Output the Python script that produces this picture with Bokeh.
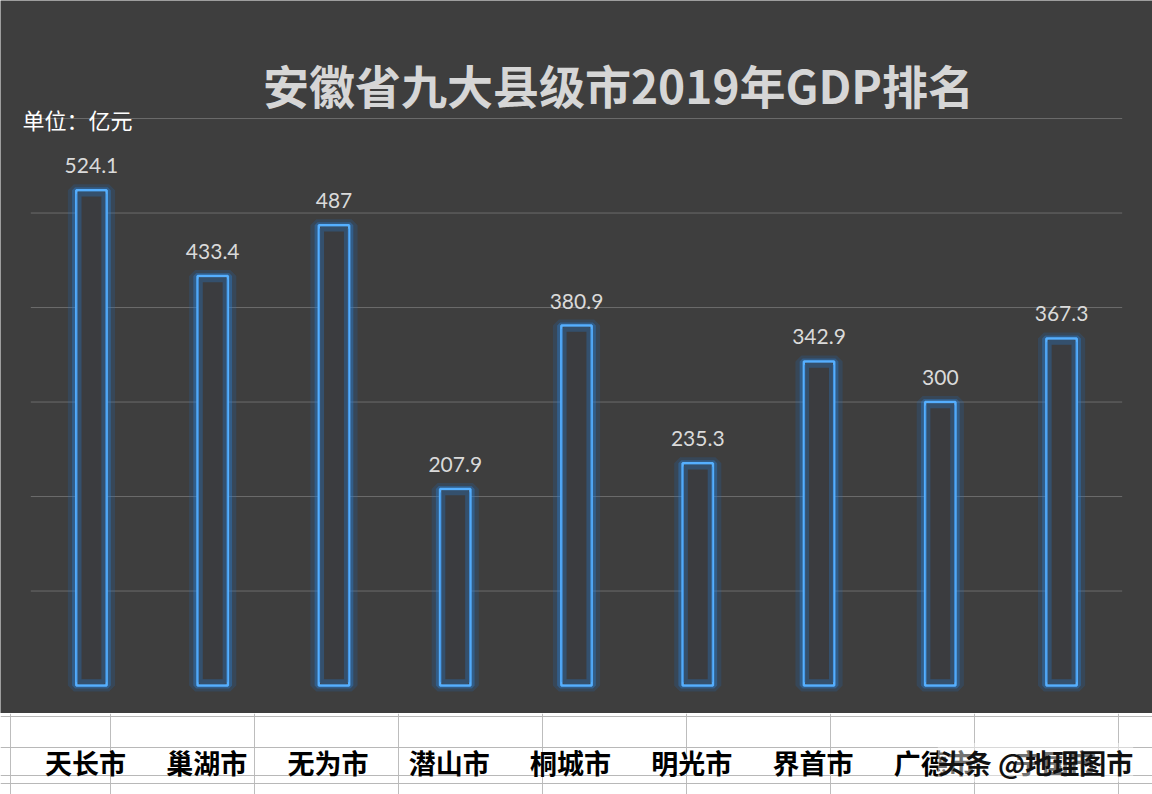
from bokeh.plotting import figure
from bokeh.layouts import column
from bokeh.models import (ColumnDataSource, FactorRange, Range1d, LabelSet, Label,
                          FixedTicker)
from bokeh.core.properties import value
from bokeh.embed import file_html
from bokeh.resources import INLINE

# ---------------- data ----------------
cities = ["天长市", "巢湖市", "无为市", "潜山市", "桐城市", "明光市", "界首市", "广德市", "宁国市"]
gdp = [524.1, 433.4, 487, 207.9, 380.9, 235.3, 342.9, 300, 367.3]
grid_values = [100, 200, 300, 400, 500, 600]
title_text = "安徽省九大县级市2019年GDP排名"
unit_text = "单位：亿元"
watermark_text = "头条 @地理图市"

# ---------------- styles / layout ----------------
BG = "#3e3e3e"
CJK = "Noto Sans CJK SC"
W = 1152
TOP_H = 713
BOT_H = 81
N = len(cities)
PX_PER_CAT = W / (N + 0.5)          # category band width in pixels (with 0.25 padding each side)
def cat_x(px):                       # pixel -> synthetic category coordinate (decorations only)
    return px / PX_PER_CAT - 0.25

labels = [f"{v:g}" for v in gdp]
src = ColumnDataSource(dict(x=cities, top=gdp, inner=[v - 4 for v in gdp], lab=labels))

xr = FactorRange(*cities, range_padding=0.5 / N, range_padding_units="percent")
p = figure(width=W, height=TOP_H, x_range=xr, y_range=Range1d(-29.6, 724.9),
           x_axis_location=None, y_axis_location=None,
           output_backend="svg", toolbar_location=None,
           background_fill_color=BG, border_fill_color=BG, min_border=0)
p.outline_line_color = None
p.xgrid.visible = False
p.ygrid.visible = False

# horizontal gridlines across the category band
p.segment(x0=[0] * len(grid_values), x1=[N] * len(grid_values), y0=grid_values, y1=grid_values,
          line_color="#6b6b6b", line_width=1)

# glow around bars
p.vbar(x="x", top="top", width=0.29, source=src, fill_alpha=0,
       line_color="#1f6fc4", line_alpha=0.2, line_width=12)
p.vbar(x="x", top="top", width=0.27, source=src, fill_alpha=0,
       line_color="#2a80d8", line_alpha=0.38, line_width=6)
# main bar outline
p.vbar(x="x", top="top", width=0.25, source=src, fill_color="#3b3c3f",
       line_color="#55afff", line_width=2.5)
# inner glow
p.vbar(x="x", top="inner", bottom=4, width=0.205, source=src, fill_alpha=0,
       line_color="#2b6fb5", line_alpha=0.4, line_width=5)

p.add_layout(LabelSet(x="x", y="top", text="lab", source=src, text_align="center",
                      text_baseline="bottom", y_offset=17, text_color="#dadada",
                      text_font=value("Lato"), text_font_size="21px"))

p.add_layout(Label(x=cat_x(618), y=637, text=title_text,
                   text_align="center", text_baseline="middle", text_color="#d6d6d6",
                   text_font=CJK, text_font_size="46px", text_font_style="bold"))
p.add_layout(Label(x=cat_x(22), y=599, text=unit_text,
                   text_align="left", text_baseline="middle", text_color="#ffffff",
                   text_font=CJK, text_font_size="22px"))

# ---------------- bottom spreadsheet strip ----------------
b = figure(width=W, height=BOT_H, x_range=xr, y_range=Range1d(794, 713),
           x_axis_location=None, y_axis_location=None,
           output_backend="svg", toolbar_location=None,
           background_fill_color="#ffffff", border_fill_color="#ffffff", min_border=0)
b.outline_line_color = None
b.xgrid.ticker = FixedTicker(ticks=[cat_x(x) for x in [10, 110, 254, 398, 542, 686, 830, 974, 1118]])
b.xgrid.grid_line_color = "#bdbdbd"
b.ygrid.ticker = FixedTicker(ticks=[716, 747, 775, 783])
b.ygrid.grid_line_color = "#b8b8b8"

bsrc = ColumnDataSource(dict(x=cities, y=[762] * N))
b.text(x="x", y="y", text="x", source=bsrc, text_align="center", text_baseline="middle",
       x_offset=-6, text_color="#000000", text_font=value(CJK),
       text_font_size="27px", text_font_style="bold")

b.add_layout(Label(x=cat_x(1035), y=762, text=watermark_text,
                   text_align="center", text_baseline="middle", text_color="#111111",
                   text_font=CJK, text_font_size="27px", text_font_style="bold",
                   background_fill_color="#ffffff", background_fill_alpha=0.45))

layout = column(p, b, spacing=0)
open("out.html", "w").write(file_html(layout, INLINE))
